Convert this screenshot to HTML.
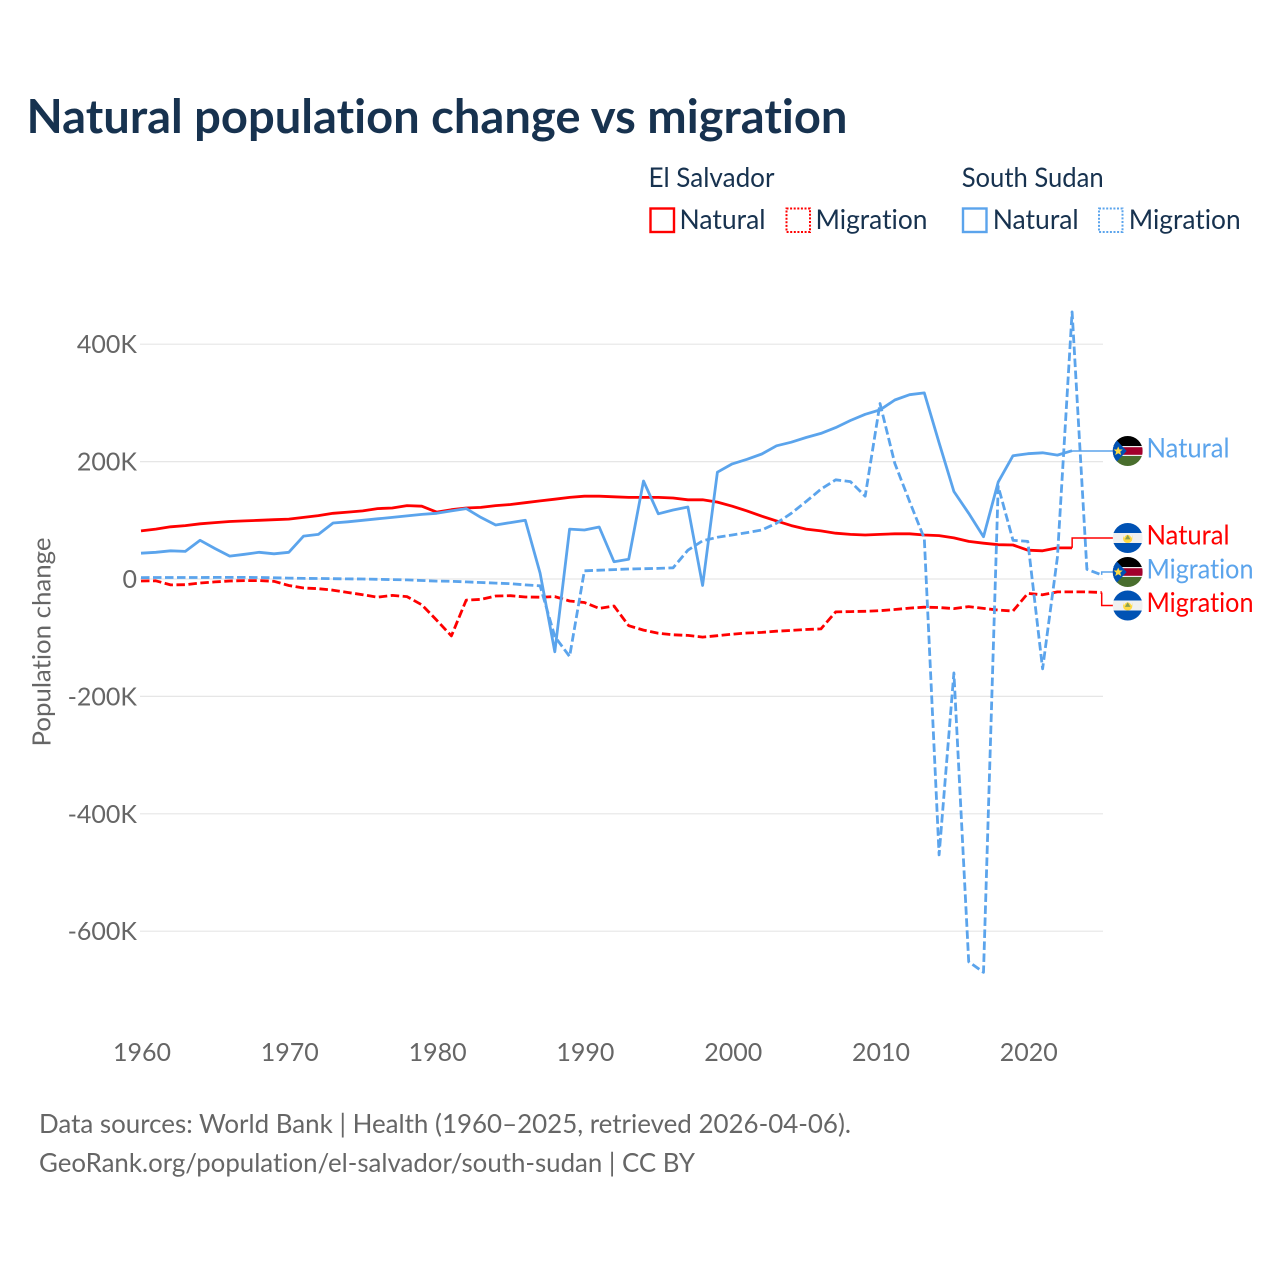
<!DOCTYPE html>
<html lang="en">
<head>
<meta charset="utf-8">
<title>Natural population change vs migration</title>
<style>
html,body{margin:0;padding:0;background:#fff;width:1280px;height:1280px;overflow:hidden}
svg{display:block}
text{font-family:"Lato","Carlito","Liberation Sans",sans-serif;font-variant-ligatures:none}
</style>
</head>
<body>
<svg id="chart" xmlns="http://www.w3.org/2000/svg" width="1280" height="1280" viewBox="0 0 1280 1280">
  <defs>
    <clipPath id="flag-clip"><circle cx="0" cy="0" r="15"/></clipPath>
    <g id="flag-ss">
      <g clip-path="url(#flag-clip)">
        <rect x="-15" y="-15" width="30" height="30" fill="#eeeeee"/>
        <rect x="-15" y="-15" width="30" height="10" fill="#000000"/>
        <rect x="-15" y="-3.8" width="30" height="7.6" fill="#a2002c"/>
        <rect x="-15" y="5" width="30" height="10" fill="#496e2d"/>
        <polygon points="-15,-15 -15,15 -1,0" fill="#0052b4"/>
        <polygon points="-9.5,-4.5 -8.2,-1.5 -5,-1.5 -7.5,0.7 -6.5,4 -9.5,2.2 -12.5,4 -11.5,0.7 -14,-1.5 -10.8,-1.5" fill="#ffda44"/>
      </g>
    </g>
    <g id="flag-sv">
      <g clip-path="url(#flag-clip)">
        <rect x="-15" y="-15" width="30" height="30" fill="#f0f0f0"/>
        <rect x="-15" y="-15" width="30" height="10" fill="#0052b4"/>
        <rect x="-15" y="5" width="30" height="10" fill="#0052b4"/>
        <path d="M-4.6,-3 A4.6,4.6 0 0 0 4.6,-3 L4.6,1 A4.6,4 0 0 1 -4.6,1 Z" fill="#ffda44"/>
        <circle cx="0" cy="0.5" r="3.6" fill="#ffda44"/>
        <polygon points="0,-3.2 2.8,1.4 -2.8,1.4" fill="#8aa050"/>
      </g>
    </g>
  </defs>

  <rect x="0" y="0" width="1280" height="1280" fill="#ffffff"/>

  <text x="26.5" y="133" font-size="47" font-weight="700" fill="#17324f" textLength="821" lengthAdjust="spacingAndGlyphs">Natural population change vs migration</text>

  <g font-size="27" fill="#17324f">
    <text x="648.5" y="187" textLength="126" lengthAdjust="spacingAndGlyphs">El Salvador</text>
    <text x="961.7" y="187" textLength="142" lengthAdjust="spacingAndGlyphs">South Sudan</text>

    <rect x="650.5" y="208.5" width="23.5" height="23.5" fill="none" stroke="#ff0000" stroke-width="2.4"/>
    <text x="679.5" y="229" textLength="86" lengthAdjust="spacingAndGlyphs">Natural</text>

    <rect x="786.5" y="208.5" width="23.5" height="23.5" fill="none" stroke="#ff0000" stroke-width="2" stroke-dasharray="2 1.6"/>
    <text x="815.5" y="229" textLength="112" lengthAdjust="spacingAndGlyphs">Migration</text>

    <rect x="963" y="208.5" width="23.5" height="23.5" fill="none" stroke="#5ba4ec" stroke-width="2.4"/>
    <text x="992.7" y="229" textLength="86" lengthAdjust="spacingAndGlyphs">Natural</text>

    <rect x="1099" y="208.5" width="23.5" height="23.5" fill="none" stroke="#5ba4ec" stroke-width="2" stroke-dasharray="2 1.6"/>
    <text x="1128.7" y="229" textLength="112" lengthAdjust="spacingAndGlyphs">Migration</text>
  </g>

  <g id="grid"></g>
  <g id="yticks" font-size="25" fill="#666666"></g>
  <g id="xticks" font-size="25" fill="#666666"></g>

  <text transform="translate(50.5,642) rotate(-90)" text-anchor="middle" font-size="25" fill="#666666" textLength="209" lengthAdjust="spacingAndGlyphs">Population change</text>

  <g id="series"></g>
  <g id="endlabels" font-size="27"></g>

  <g font-size="26" fill="#666666">
    <text x="39" y="1133" textLength="812" lengthAdjust="spacingAndGlyphs">Data sources: World Bank | Health (1960–2025, retrieved 2026-04-06).</text>
    <text x="39" y="1172" textLength="656" lengthAdjust="spacingAndGlyphs">GeoRank.org/population/el-salvador/south-sudan | CC BY</text>
  </g>
</svg>
<script>
const years = [1960,1961,1962,1963,1964,1965,1966,1967,1968,1969,1970,1971,1972,1973,1974,1975,1976,1977,1978,1979,1980,1981,1982,1983,1984,1985,1986,1987,1988,1989,1990,1991,1992,1993,1994,1995,1996,1997,1998,1999,2000,2001,2002,2003,2004,2005,2006,2007,2008,2009,2010,2011,2012,2013,2014,2015,2016,2017,2018,2019,2020,2021,2022,2023,2024,2025];
const elSalvadorNatural = [82,85,89,91,94,96,98,99,100,101,102,105,108,112,114,116,120,121,125,124,114,118,121,122,125,127,130,133,136,139,141,141,140,139,139,139,138,135,135,131,124,116,107,99,91,85,82,78,76,75,76,77,77,75,74,70,64,61,58.5,58,49,48,53,53];
const elSalvadorMigration = [-3.4,-3,-10,-9.7,-6.8,-5,-3.4,-2.8,-2.8,-4,-11,-15.3,-16.5,-19,-23,-26.7,-31,-28,-30,-44,-70,-97,-36,-34.7,-29,-28.4,-30.7,-31,-30,-37.5,-40,-50,-46,-79.5,-87,-92.5,-95,-96,-99,-96.6,-94,-92,-91,-89,-87.5,-86,-85,-56,-55.5,-55,-54,-52,-49.5,-48,-48.5,-50.5,-47,-50,-53,-54.5,-24.5,-27,-22,-22,-22,-23];
const southSudanNatural = [44,45.5,48,47,66,52,39,42,45.5,43,45.5,73,76,95.4,97.5,100,102.5,105,107.5,110,112,116,120,105,92,96,100,10,-124,85,83.5,88.6,29.5,33.5,167,111,117.5,122.6,-11,182,196,204,213,227,233,241,248,258,270,280.5,288,305,314,317,232,149,112,72,165,210,213.5,215,211,218.6];
const southSudanMigration = [2.3,2.5,2.5,2.5,2.5,2.8,2.8,2.8,2.5,2,1.5,1,0.8,0.5,0.2,0,-0.5,-1,-1.5,-2.5,-3.5,-4,-5,-6,-7,-8,-10,-11.5,-98,-132,14,15,16,17,17.5,18,19,49,65,71,75,79,83.5,95,112,132,153,169,166,141,299,197,132,69,-470,-160,-652,-670,158,66,64,-153,37,455,16.5,7];
const yTickValues = [400,200,0,-200,-400,-600];
const yTickLabels = ["400K","200K","0","-200K","-400K","-600K"];
const xTickValues = [1960,1970,1980,1990,2000,2010,2020];
const xTickLabels = ["1960","1970","1980","1990","2000","2010","2020"];

const NS = "http://www.w3.org/2000/svg";
function xScale(year){ return 141 + (year - 1960) * 14.78; }
function yScale(k){ return 579 - k * 0.587; }

const gridGroup = document.getElementById("grid");
const yTickGroup = document.getElementById("yticks");
const xTickGroup = document.getElementById("xticks");
const seriesGroup = document.getElementById("series");
const endGroup = document.getElementById("endlabels");

yTickValues.forEach(function(v, i){
  const line = document.createElementNS(NS, "line");
  
  
  line.setAttribute("x1", 140);
  line.setAttribute("x2", 1103);
  line.setAttribute("y1", yScale(v));
  line.setAttribute("y2", yScale(v));
  line.setAttribute("stroke", "#e6e6e6");
  line.setAttribute("stroke-width", 1.2);
  gridGroup.appendChild(line);

  const t = document.createElementNS(NS, "text");
  
  
  t.setAttribute("x", 137);
  t.setAttribute("y", yScale(v) + 9);
  t.setAttribute("text-anchor", "end");
  t.textContent = yTickLabels[i];
  yTickGroup.appendChild(t);
});

xTickValues.forEach(function(v, i){
  const t = document.createElementNS(NS, "text");
  
  
  t.setAttribute("x", xScale(v) + 1);
  t.setAttribute("y", 1061);
  t.setAttribute("text-anchor", "middle");
  t.textContent = xTickLabels[i];
  xTickGroup.appendChild(t);
});

function pathFor(values){
  return values.map(function(v, i){
    return (i ? "L" : "M") + xScale(years[i]).toFixed(1) + " " + yScale(v).toFixed(1);
  }).join(" ");
}

function drawSeries(name, values, color, dashed){
  const p = document.createElementNS(NS, "path");
  
  
  p.setAttribute("d", pathFor(values));
  p.setAttribute("fill", "none");
  p.setAttribute("stroke", color);
  p.setAttribute("stroke-width", 2.8);
  p.setAttribute("stroke-linejoin", "round");
  if (dashed) p.setAttribute("stroke-dasharray", "8.5 3.5");
  seriesGroup.appendChild(p);
}

function drawEnd(name, values, color, labelY, flag, label, labelWidth){
  const last = values.length - 1;
  const lx = xScale(years[last]);
  const ly = yScale(values[last]);
  const c = document.createElementNS(NS, "path");
  
  
  c.setAttribute("d", "M" + lx + " " + ly + " L" + lx + " " + labelY + " L1113 " + labelY);
  c.setAttribute("fill", "none");
  c.setAttribute("stroke", color);
  c.setAttribute("stroke-width", 1.5);
  endGroup.appendChild(c);

  const f = document.createElementNS(NS, "use");
  
  
  f.setAttribute("href", flag);
  f.setAttribute("transform", "translate(1127.7," + labelY + ")");
  endGroup.appendChild(f);

  const t = document.createElementNS(NS, "text");
  
  
  t.setAttribute("x", 1146.5);
  t.setAttribute("y", labelY + 6.5);
  t.setAttribute("fill", color);
  t.setAttribute("textLength", labelWidth);
  t.setAttribute("lengthAdjust", "spacingAndGlyphs");
  t.textContent = label;
  endGroup.appendChild(t);
}

drawSeries("line-el-salvador-natural", elSalvadorNatural, "#ff0000", false);
drawSeries("line-el-salvador-migration", elSalvadorMigration, "#ff0000", true);
drawSeries("line-south-sudan-natural", southSudanNatural, "#5ba4ec", false);
drawSeries("line-south-sudan-migration", southSudanMigration, "#5ba4ec", true);

drawEnd("end-south-sudan-natural", southSudanNatural, "#5ba4ec", 451, "#flag-ss", "Natural", 83);
drawEnd("end-el-salvador-natural", elSalvadorNatural, "#ff0000", 538, "#flag-sv", "Natural", 83);
drawEnd("end-south-sudan-migration", southSudanMigration, "#5ba4ec", 572, "#flag-ss", "Migration", 107);
drawEnd("end-el-salvador-migration", elSalvadorMigration, "#ff0000", 605.5, "#flag-sv", "Migration", 107);
</script>
</body>
</html>
